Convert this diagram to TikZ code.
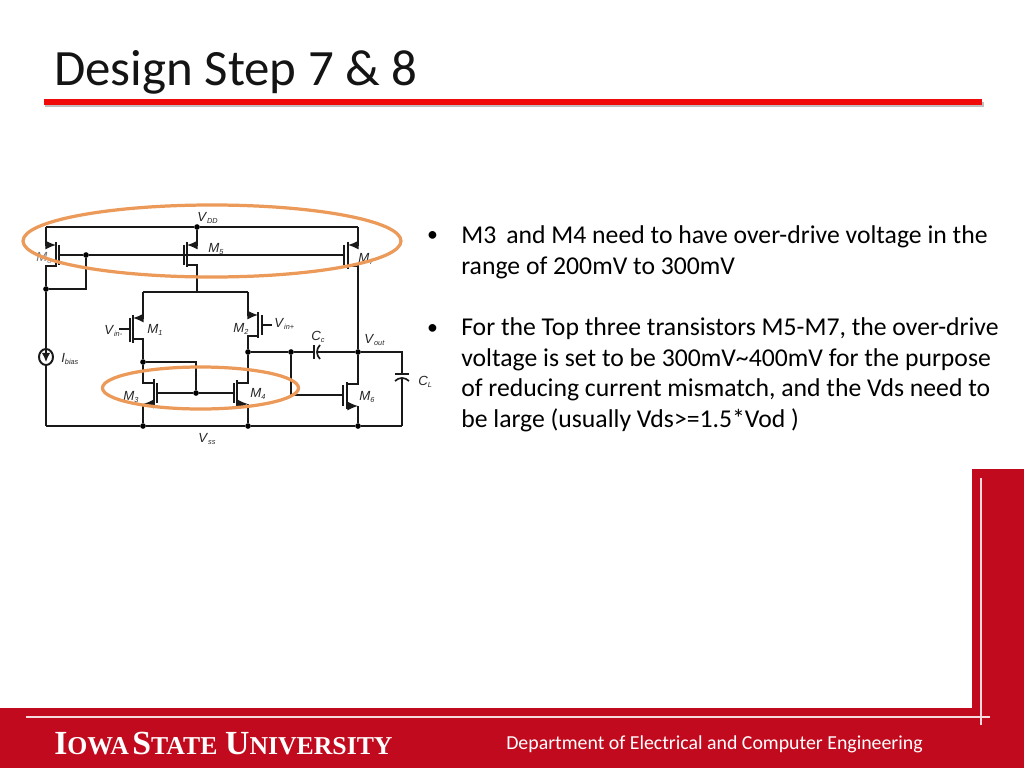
\documentclass[tikz,border=0pt]{standalone}
\usepackage{fontspec}
\setmainfont{Carlito}
\newfontfamily\cktfont{Liberation Sans}
\newfontfamily\isufont{Liberation Serif}
\usetikzlibrary{arrows.meta}
\definecolor{isured}{HTML}{C20A1E}
\definecolor{ringorange}{HTML}{EC9A59}
\definecolor{ruledred}{HTML}{F00A0A}
\def\devlabel#1#2{{\cktfont\fontsize{9.4}{11}\selectfont\textit{#1}\raisebox{-0.35ex}{\fontsize{5.2}{6}\selectfont\textit{#2}}}}
\def\isuword#1#2{{\fontsize{24}{28}\selectfont #1}{\fontsize{18.3}{22}\selectfont #2}}
\tikzset{
	wire/.style={line width=1pt, color=black!90},
	plate/.style={line width=1.2pt, color=black!90},
	srcarrow/.style={wire, -{Latex[length=7.5pt,width=6.5pt]}},
	dot/.style={circle, fill=black, inner sep=0pt, minimum size=4pt},
	devtext/.style={inner sep=0pt, anchor=base west, color=black!85},
	bodytext/.style={inner sep=0pt, anchor=base west, font=\fontsize{18.27}{22}\selectfont, color=black},
	ring/.style={line width=2.3pt, color=ringorange}
}

\begin{document}
\begin{tikzpicture}[x=0.025cm, y=-0.025cm]
	\useasboundingbox (0, 0) rectangle (1024, 768);
	%%%%% START %%%%%
	
	% slide frame
	\fill[white] (0, 0) rectangle (1024, 768);
	\node[inner sep=0pt, anchor=base west, font=\fontsize{36.2}{42}\selectfont, color=black!92] (title) at (54, 86) {Design Step 7 \& 8};
	\fill[black!25] (45, 102) rectangle (984, 107);
	\fill[ruledred] (44, 99) rectangle (982, 105);
	
	\fill[isured] (0, 708) -- (972, 708) -- (972, 469) -- (1024, 469) -- (1024, 768) -- (0, 768) -- cycle;
	\draw[line width=1.2pt, color=white!85!isured] (26, 717) -- (990, 717);
	\draw[line width=1.2pt, color=white!85!isured] (981, 478) -- (981, 725);
	\node[inner sep=0pt, anchor=base west, color=white, font=\isufont\bfseries] (isu) at (54, 754) {\isuword{I}{OWA} \isuword{S}{TATE}\hspace{3pt} \isuword{U}{NIVERSITY}};
	\node[inner sep=0pt, anchor=base west, color=white, font=\fontsize{14.1}{17}\selectfont] (dept) at (506, 749) {Department of Electrical and Computer Engineering};
	
	% junctions
	\node[dot] (vdd) at (197, 227) {};
	\node[dot] (gatetop) at (86, 255) {};
	\node[dot] (biasnode) at (46, 289) {};
	\node[dot] (dleft) at (143, 362) {};
	\node[dot] (gatelow) at (196, 393) {};
	\node[dot] (dright) at (248, 352) {};
	\node[dot] (ccleft) at (291, 352) {};
	\node[dot] (out) at (358, 352) {};
	\node[dot] (gndleft) at (143, 426) {};
	\node[dot] (gndmid) at (248, 426) {};
	\node[dot] (gndright) at (358, 426) {};
	\coordinate (railleft) at (46, 227);
	\coordinate (railright) at (358, 227);
	\coordinate (bottomleft) at (46, 426);
	\coordinate (bottomright) at (402, 426);
	\coordinate (tailleft) at (143, 292);
	\coordinate (tailright) at (248, 292);
	\coordinate (tailmid) at (197, 292);
	
	% rails
	\draw[wire] (railleft) -- (vdd) -- (railright);
	\draw[wire] (bottomleft) -- (gndleft) -- (gndmid) -- (gndright) -- (bottomright);
	
	% M8
	\draw[plate] (56, 242) -- (56, 267);
	\draw[plate] (59, 245) -- (59, 265);
	\draw[srcarrow] (railleft) -- (46, 245) -- (56, 245);
	\draw[wire] (56, 266) -- (46, 266) -- (biasnode);
	\draw[wire] (biasnode) -- (86, 289) -- (gatetop);
	
	% M5
	\draw[plate] (184, 245) -- (184, 265);
	\draw[plate] (187, 242) -- (187, 267);
	\draw[srcarrow] (vdd) -- (197, 245) -- (187, 245);
	\draw[wire] (187, 265) -- (197, 265) -- (tailmid);
	\draw[wire] (tailleft) -- (tailright);
	
	% M7
	\draw[plate] (344, 245) -- (344, 265);
	\draw[plate] (348, 242) -- (348, 269);
	\draw[srcarrow] (railright) -- (358, 245) -- (348, 245);
	\draw[wire] (348, 266) -- (358, 266) -- (out);
	\draw[wire] (59, 255) -- (gatetop) -- (184, 255);
	\draw[wire] (184, 255) -- (344, 255);
	
	% M1
	\draw[plate] (130, 318) -- (130, 342);
	\draw[plate] (133, 315) -- (133, 343);
	\draw[srcarrow] (tailleft) -- (143, 318) -- (133, 318);
	\draw[wire] (119, 329) -- (130, 329);
	\draw[wire] (133, 339) -- (143, 339) -- (dleft);
	
	% M2
	\draw[plate] (258, 312) -- (258, 338);
	\draw[plate] (262, 315) -- (262, 335);
	\draw[srcarrow] (tailright) -- (248, 315) -- (258, 315);
	\draw[wire] (262, 325) -- (272, 325);
	\draw[wire] (258, 336) -- (248, 336) -- (dright);
	
	% M3
	\draw[plate] (154, 379) -- (154, 406);
	\draw[plate] (157, 383) -- (157, 403);
	\draw[wire] (dleft) -- (143, 383) -- (154, 383);
	\draw[srcarrow] (154, 404) -- (143, 404);
	\draw[wire] (143, 404) -- (gndleft);
	\draw[wire] (dleft) -- (196, 362) -- (gatelow);
	
	% M4
	\draw[plate] (237, 380) -- (237, 407);
	\draw[plate] (234, 383) -- (234, 403);
	\draw[wire] (dright) -- (248, 383) -- (237, 383);
	\draw[srcarrow] (237, 404) -- (248, 404);
	\draw[wire] (248, 404) -- (gndmid);
	\draw[wire] (157, 393) -- (gatelow) -- (234, 393);
	
	% M6
	\draw[plate] (343, 385) -- (343, 406);
	\draw[plate] (347, 382) -- (347, 409);
	\draw[wire] (out) -- (358, 384) -- (347, 384);
	\draw[srcarrow] (347, 406) -- (358, 406);
	\draw[wire] (358, 406) -- (gndright);
	\draw[wire] (ccleft) -- (291, 395) -- (343, 395);
	
	% Cc
	\draw[wire] (dright) -- (ccleft) -- (314, 352);
	\draw[plate] (314, 345) -- (314, 359);
	\draw[plate] (320, 345) .. controls (316, 349) and (316, 355) .. (320, 359);
	\draw[wire] (317, 352) -- (out);
	
	% CL
	\draw[wire] (out) -- (402, 352) -- (402, 374);
	\draw[plate] (395, 374) -- (409, 374);
	\draw[plate] (395, 381) .. controls (399, 377) and (405, 377) .. (409, 381);
	\draw[wire] (402, 378) -- (bottomright);
	
	% Ibias
	\draw[wire] (biasnode) -- (46, 349);
	\draw[wire] (46, 365) -- (bottomleft);
	\draw[plate, line width=1.4pt] (46, 357) ellipse (7 and 8);
	\draw[wire, -{Latex[length=6.5pt,width=6pt]}] (46, 350) -- (46, 362);
	
	% labels
	\node[devtext] (lvdd) at (197, 221) {\devlabel{V}{DD}};
	\node[devtext, color=black!55] (lm8) at (36, 261) {\devlabel{M}{8}};
	\node[devtext] (lm5) at (208, 252) {\devlabel{M}{5}};
	\node[devtext] (lm7) at (358, 262) {\devlabel{M}{7}};
	\node[devtext] (lm1) at (147, 333) {\devlabel{M}{1}};
	\node[devtext] (lm2) at (233, 332) {\devlabel{M}{2}};
	\node[devtext] (lvm) at (104, 334) {\devlabel{V}{in-}};
	\node[devtext] (lvp) at (274, 327) {\devlabel{V}{in+}};
	\node[devtext] (lcc) at (311, 340) {\devlabel{C}{c}};
	\node[devtext] (lvout) at (364, 343) {\devlabel{V}{out}};
	\node[devtext] (lib) at (61, 362) {\devlabel{I}{bias}};
	\node[devtext] (lm3) at (123, 400) {\devlabel{M}{3}};
	\node[devtext] (lm4) at (250, 397) {\devlabel{M}{4}};
	\node[devtext] (lm6) at (359, 400) {\devlabel{M}{6}};
	\node[devtext] (lcl) at (418, 385) {\devlabel{C}{L}};
	\node[devtext] (lvss) at (198, 442) {\devlabel{V}{ss}};
	
	% highlight rings
	\draw[ring] (212, 241) ellipse (189 and 36);
	\draw[ring] (200.5, 388) ellipse (98 and 21);
	
	% bullets
	\node[bodytext, scale=0.85] (b1) at (427, 241) {•};
	\node[bodytext] (t1a) at (461, 243) {M3\, and M4 need to have over-drive voltage in the};
	\node[bodytext] (t1b) at (461, 274) {range of 200mV to 300mV};
	\node[bodytext, scale=0.85] (b2) at (427, 334) {•};
	\node[bodytext] (t2a) at (461, 335) {For the Top three transistors M5-M7, the over-drive};
	\node[bodytext] (t2b) at (461, 366) {voltage is set to be 300mV\textasciitilde 400mV for the purpose};
	\node[bodytext] (t2c) at (461, 396) {of reducing current mismatch, and the Vds need to};
	\node[bodytext] (t2d) at (461, 427) {be large (usually Vds>=1.5*Vod )};
	
	%%%%% END %%%%%
\end{tikzpicture}
\end{document}
